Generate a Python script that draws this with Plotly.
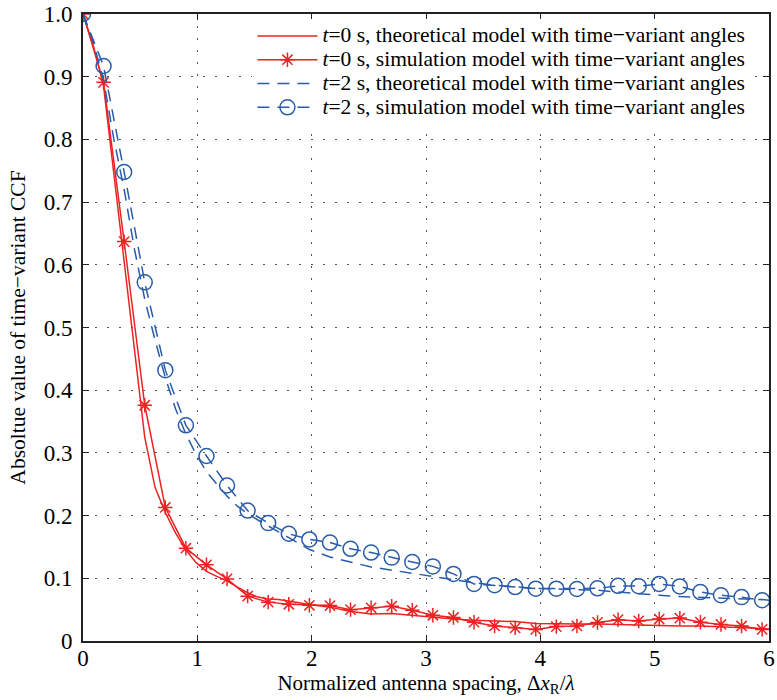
import plotly.graph_objects as go

# ---------------- data ----------------
x_sim = [0, 0.18, 0.36, 0.54, 0.72, 0.90, 1.08, 1.26, 1.44, 1.62, 1.80, 1.98, 2.16, 2.34,
         2.52, 2.70, 2.88, 3.06, 3.24, 3.42, 3.60, 3.78, 3.96, 4.14, 4.32, 4.50, 4.68,
         4.86, 5.04, 5.22, 5.40, 5.58, 5.76, 5.94]

sim_t0 = [1.0, 0.891, 0.637, 0.376, 0.213, 0.148, 0.1215, 0.099, 0.0715, 0.062, 0.0586,
          0.057, 0.0565, 0.050, 0.053, 0.0555, 0.049, 0.041, 0.0375, 0.030, 0.024, 0.021,
          0.0185, 0.023, 0.024, 0.0296, 0.034, 0.032, 0.035, 0.0365, 0.030, 0.0264, 0.024,
          0.0185]

sim_t2 = [1.0, 0.917, 0.748, 0.572, 0.432, 0.344, 0.295, 0.248, 0.208, 0.188, 0.171,
          0.162, 0.157, 0.147, 0.141, 0.133, 0.126, 0.119, 0.107, 0.091, 0.089, 0.086,
          0.0835, 0.0835, 0.083, 0.084, 0.088, 0.0875, 0.091, 0.087, 0.078, 0.073, 0.070,
          0.065]

x_theo = [0, 0.09, 0.18, 0.27, 0.36, 0.45, 0.54, 0.63, 0.72, 0.81, 0.90, 0.99, 1.08, 1.17,
          1.26, 1.35, 1.44, 1.53, 1.62, 1.71, 1.80, 1.89, 1.98, 2.07, 2.16, 2.34, 2.52,
          2.70, 2.88, 3.06, 3.24, 3.42, 3.60, 3.78, 3.96, 4.14, 4.32, 4.50, 4.68, 4.86,
          5.04, 5.22, 5.40, 5.58, 5.76, 5.94, 6.0]

theo_t0 = [1.0, 0.95, 0.885, 0.745, 0.595, 0.455, 0.325, 0.245, 0.205, 0.172, 0.145,
           0.125, 0.111, 0.103, 0.096, 0.086, 0.077, 0.070, 0.067, 0.066, 0.064, 0.061,
           0.058, 0.056, 0.054, 0.047, 0.043, 0.044, 0.041, 0.0375, 0.035, 0.033, 0.032,
           0.031, 0.028, 0.027, 0.027, 0.027, 0.026, 0.025, 0.024, 0.024, 0.024, 0.023,
           0.022, 0.020, 0.019]

theo_t2 = [1.0, 0.955, 0.895, 0.80, 0.72, 0.625, 0.545, 0.48, 0.42, 0.37, 0.33, 0.297,
           0.27, 0.25, 0.231, 0.215, 0.203, 0.193, 0.183, 0.174, 0.165, 0.155, 0.146,
           0.140, 0.134, 0.126, 0.118, 0.113, 0.108, 0.102, 0.097, 0.093, 0.089, 0.086,
           0.084, 0.083, 0.082, 0.081, 0.078, 0.075, 0.073, 0.071, 0.070, 0.069, 0.068,
           0.066, 0.065]

x_ticks = [0, 1, 2, 3, 4, 5, 6]
y_ticks = [0, 0.1, 0.2, 0.3, 0.4, 0.5, 0.6, 0.7, 0.8, 0.9, 1.0]
y_tick_labels = ["0", "0.1", "0.2", "0.3", "0.4", "0.5", "0.6", "0.7", "0.8", "0.9", "1.0"]

names = [
    "<i>t</i>=0 s, theoretical model with time\u2212variant angles",
    "<i>t</i>=0 s, simulation model with time\u2212variant angles",
    "<i>t</i>=2 s, theoretical model with time\u2212variant angles",
    "<i>t</i>=2 s, simulation model with time\u2212variant angles",
]
legend_names = ['<span style="font-size:21.5px">' + n + "</span>" for n in names]

RED = "#ee2222"
BLUE = "#2a5caa"
FONT = "Liberation Serif"

fig = go.Figure()
fig.add_trace(go.Scatter(x=x_theo, y=theo_t0, mode="lines", name=legend_names[0],
                         line=dict(color=RED, width=1.5)))
fig.add_trace(go.Scatter(x=x_sim, y=sim_t0, mode="lines+markers", name=legend_names[1],
                         line=dict(color=RED, width=1.5),
                         marker=dict(symbol="asterisk-open", size=12,
                                     line=dict(color=RED, width=1.5))))
fig.add_trace(go.Scatter(x=x_theo, y=theo_t2, mode="lines", name=legend_names[2],
                         line=dict(color=BLUE, width=1.5, dash="12px,8px")))
fig.add_trace(go.Scatter(x=x_sim, y=sim_t2, mode="lines+markers", name=legend_names[3],
                         line=dict(color=BLUE, width=1.5, dash="12px,8px"),
                         marker=dict(symbol="circle-open", size=15,
                                     line=dict(color=BLUE, width=1.5))))

axis_common = dict(
    showline=True, linecolor="#222", linewidth=2, mirror="ticks",
    ticks="inside", ticklen=6, tickwidth=1.2, tickcolor="#222",
    showgrid=True, gridcolor="#555", gridwidth=1, griddash="2px,10px",
    zeroline=False, tickfont=dict(family=FONT, size=23, color="black"),
    ticklabeloverflow="allow",
)

fig.update_xaxes(range=[0, 6], tickvals=x_ticks, ticktext=[str(v) for v in x_ticks],
                 ticklabelstandoff=-5,
                 title=dict(text="Normalized antenna spacing, \u0394<i>x</i><sub>R</sub>/<i>\u03bb</i>",
                            font=dict(family=FONT, size=21, color="black"), standoff=3),
                 **axis_common)
fig.update_yaxes(range=[0, 1.0], tickvals=y_ticks, ticktext=y_tick_labels,
                 ticklabelstandoff=4,
                 title=dict(text="Absoltue value of time\u2212variant CCF",
                            font=dict(family=FONT, size=21.5, color="black"), standoff=12),
                 **axis_common)

fig.update_layout(
    width=777, height=700,
    margin=dict(l=83, r=2, t=10, b=59),
    plot_bgcolor="white", paper_bgcolor="white",
    font=dict(family=FONT, size=20, color="black"),
    showlegend=True,
    legend=dict(x=0.247, xanchor="left", y=0.992, yanchor="top",
                bgcolor="white", borderwidth=0, itemwidth=60,
                font=dict(family=FONT, size=16, color="black"),
                tracegroupgap=0),
)

fig.write_html("out.html", config={"displayModeBar": False},
               post_script="document.body.style.margin='0';")
